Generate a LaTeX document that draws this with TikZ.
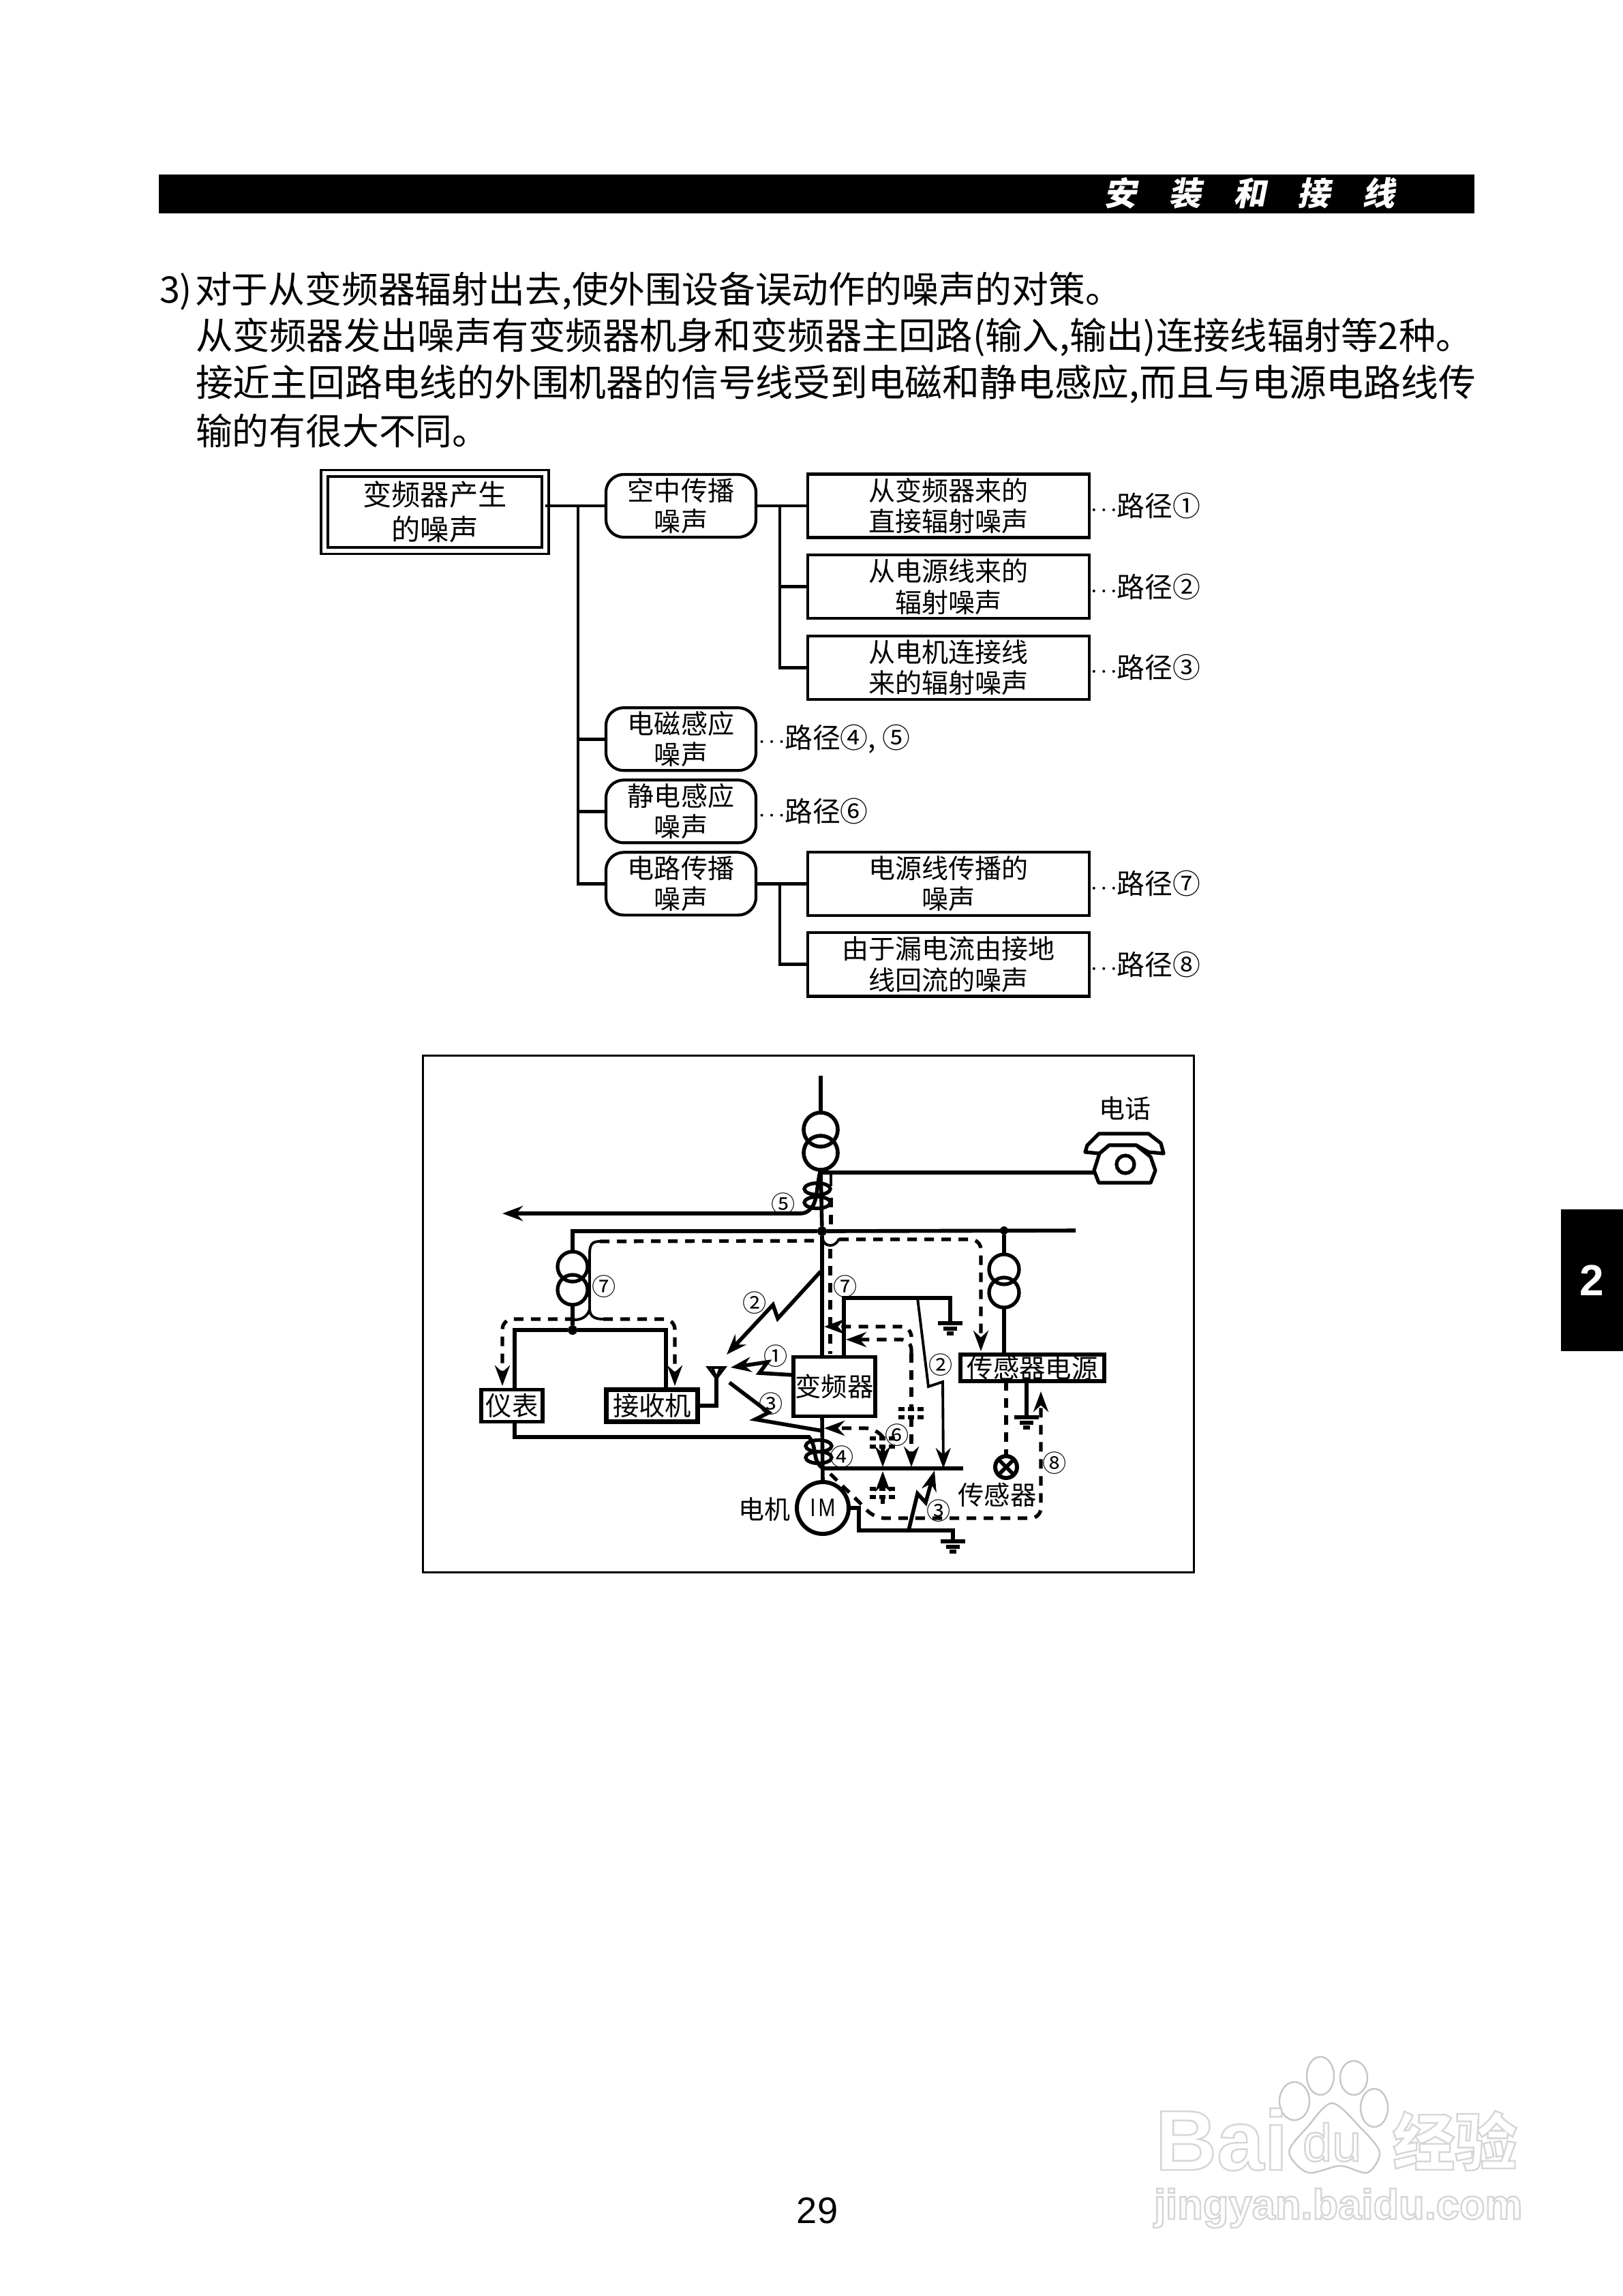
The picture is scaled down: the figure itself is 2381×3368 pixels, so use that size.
\documentclass[tikz,border=0pt]{standalone}
\usepackage{fontspec}
\setmainfont{Noto Sans CJK SC}
\newfontfamily\latinfont{Liberation Sans}
\newfontfamily\motorfont[FakeStretch=0.8]{Liberation Sans}
\newfontfamily\titlefont[FakeSlant=0.2]{Noto Sans CJK SC}
\usetikzlibrary{arrows.meta,positioning,shapes.geometric}
\newcommand{\pathdots}{\raisebox{0.8pt}{\fontsize{7.5}{8}\selectfont\boldmath$\cdots$}}
\newcommand{\wmtext}[1]{\special{pdf:code q 1 Tr 0.84 G 0.7 w}#1\special{pdf:code Q}}

\begin{document}
\begin{tikzpicture}[x=0.01cm, y=-0.01cm, every node/.style={inner sep=0, outer sep=0}, body/.style={anchor=west, font=\fontsize{15.3}{18}\selectfont}, rootbox/.style={draw, double, double distance=1.7pt, line width=1.1pt, minimum width=3.24cm, minimum height=1.13cm, align=center, font=\fontsize{12}{14.6}\selectfont}, rbox/.style={draw, rounded corners=2.6mm, line width=1.2pt, minimum width=2.2cm, minimum height=0.92cm, align=center, font=\fontsize{11.1}{12.9}\selectfont}, leaf/.style={draw, line width=1.2pt, minimum width=4.13cm, minimum height=0.93cm, align=center, font=\fontsize{11.1}{12.9}\selectfont}, pathlabel/.style={font=\fontsize{11.6}{12}\selectfont}, treewire/.style={line width=1.4pt}, wire/.style={line width=1.6pt}, thinwire/.style={line width=1.1pt}, dashwire/.style={line width=1.5pt, dash pattern=on 1.4mm off 1.1mm, rounded corners=1.5mm}, tip/.style={-{Stealth[length=3mm,width=2.2mm]}}, ring/.style={draw, circle, line width=1.5pt, minimum size=0.44cm}, bigring/.style={draw, circle, line width=1.6pt, minimum size=0.5cm}, coil/.style={draw, ellipse, line width=1.5pt, minimum width=0.38cm, minimum height=0.17cm}, device/.style={draw, line width=1.6pt, font=\fontsize{10.9}{12}\selectfont}, junction/.style={fill, circle, minimum size=0.14cm}, num/.style={font=\fontsize{10}{11}\selectfont}, caption/.style={font=\fontsize{10.8}{12}\selectfont}, earth/.pic={\draw[line width=1.5pt] (-18,0) -- (18,0); \draw[line width=1.5pt] (-10,8) -- (10,8); \draw[line width=1.5pt] (-5,15) -- (5,15);}, plates/.pic={\draw[line width=1.5pt, dash pattern=on 0.9mm off 0.5mm] (-19,0) -- (19,0); \draw[line width=1.5pt, dash pattern=on 0.9mm off 0.5mm] (-19,12) -- (19,12);}, watermark/.style={anchor=base west}, paw/.style={draw=black!22, line width=0.7pt}]
\useasboundingbox (0,0) rectangle (2381,3368);

\node[fill=black, minimum width=19.28cm, minimum height=0.57cm] (headbar) at (1198,284.5) {};
\node[text=white, font=\titlefont\bfseries\fontsize{13.6}{14}\selectfont] (title) at (1833,283) {安\hspace{0.467cm}装\hspace{0.467cm}和\hspace{0.467cm}接\hspace{0.467cm}线};
\node[fill=black, minimum width=0.91cm, minimum height=2.08cm, text=white, font=\latinfont\bfseries\fontsize{18.2}{20}\selectfont] (chapter) at (2335.5,1878) {2};
\node[font=\latinfont\fontsize{15.4}{18}\selectfont] (pageno) at (1199,3243) {29};

\node[body] (line1) at (234,427) {\makebox[0.52cm][l]{3)}对于从变频器辐射出去,使外围设备误动作的噪声的对策。};
\node[body, font=\fontsize{15.44}{18}\selectfont] (line2) at (287,495) {从变频器发出噪声有变频器机身和变频器主回路(输入,输出)连接线辐射等2种。};
\node[body, font=\fontsize{15.58}{18}\selectfont] (line3) at (287,563) {接近主回路电线的外围机器的信号线受到电磁和静电感应,而且与电源电路线传};
\node[body] (line4) at (287,632) {输的有很大不同。};

\node[rootbox] (noise) at (638,751) {变频器产生\\的噪声};
\node[rbox] (air) at (999,742) {空中传播\\噪声};
\node[rbox,below=25mm of air] (magnetic) {电磁感应\\噪声};
\node[rbox,below=1.4mm of magnetic] (static) {静电感应\\噪声};
\node[rbox,below=1.4mm of static] (circuit) {电路传播\\噪声};
\node[leaf,right=7.6mm of air] (direct) {从变频器来的\\直接辐射噪声};
\node[leaf,below=2.55mm of direct] (powerline) {从电源线来的\\辐射噪声};
\node[leaf,below=2.55mm of powerline] (motorline) {从电机连接线\\来的辐射噪声};
\node[leaf,right=7.6mm of circuit] (conducted) {电源线传播的\\噪声};
\node[leaf,below=2.55mm of conducted] (leakage) {由于漏电流由接地\\线回流的噪声};
\node[pathlabel,right=0.2mm of direct] (path1) {\pathdots 路径①};
\node[pathlabel,right=0.2mm of powerline] (path2) {\pathdots 路径②};
\node[pathlabel,right=0.2mm of motorline] (path3) {\pathdots 路径③};
\node[pathlabel,right=0.4mm of magnetic] (path45) {\pathdots 路径④, ⑤};
\node[pathlabel,right=0.4mm of static] (path6) {\pathdots 路径⑥};
\node[pathlabel,right=0.2mm of conducted] (path7) {\pathdots 路径⑦};
\node[pathlabel,right=0.2mm of leakage] (path8) {\pathdots 路径⑧};
\coordinate (trunk) at (848,742);
\coordinate (branch) at (1144,742);
\coordinate (branchb) at (1144,1297);
\draw[treewire] (air.west -| noise.east) -- (air.west);
\draw[treewire] (trunk) |- (magnetic.west);
\draw[treewire] (trunk) |- (static.west);
\draw[treewire] (trunk) |- (circuit.west);
\draw[treewire] (air.east) -- (direct.west);
\draw[treewire] (branch) |- (powerline.west);
\draw[treewire] (branch) |- (motorline.west);
\draw[treewire] (circuit.east) -- (conducted.west);
\draw[treewire] (branchb) |- (leakage.west);

\node[draw, line width=0.85pt, minimum width=11.3cm, minimum height=7.57cm] (panel) at (1186,1927.5) {};
\node[device, minimum width=1.2cm, minimum height=0.87cm] (inverter) at (1224,2034) {变频器};
\node[device, minimum width=2.11cm, minimum height=0.39cm] (sensorpower) at (1514.5,2006.5) {传感器电源};
\node[device, minimum width=0.9cm, minimum height=0.47cm] (meter) at (751,2062) {仪表};
\node[device, line width=2pt, minimum width=1.33cm, minimum height=0.47cm] (receiver) at (956.5,2062) {接收机};
\node[draw, circle, line width=1.7pt, minimum size=0.76cm, font=\motorfont\fontsize{10.6}{11}\selectfont] (motor) at (1207,2212) {I\hspace{0.04cm}M};
\node[draw, circle, line width=1.7pt, minimum size=0.32cm] (lamp) at (1476,2152) {};
\node[bigring] (maina) at (1204,1657) {};
\node[bigring] (mainb) at (1204,1691) {};
\node[ring] (lefta) at (840,1858) {};
\node[ring] (leftb) at (840,1892) {};
\node[ring] (righta) at (1473,1862) {};
\node[ring] (rightb) at (1473,1896) {};
\node[coil] (coila) at (1199,1744) {};
\node[coil] (coilb) at (1199,1764) {};
\node[coil] (coilc) at (1201,2121) {};
\node[coil] (coild) at (1201,2138) {};
\node[junction] (busmain) at (1206,1806) {};
\node[junction, minimum size=0.12cm] (busright) at (1473,1805) {};
\node[junction] (busleft) at (840,1951) {};
\coordinate (mains) at (1204,1578);
\coordinate (feedwest) at (737,1780);
\coordinate (phonein) at (1605,1720);
\coordinate (buswest) at (837,1807);
\coordinate (buseast) at (1578,1805);
\coordinate (barwest) at (1207,2154);
\coordinate (bareast) at (1413,2154);
\coordinate (antenna) at (1051,2022);

\draw[wire] (mains) -- (maina.north);
\draw[wire] (mainb.south) -- (busmain);
\draw[wire] (busmain) -- (busmain |- inverter.north);
\draw[wire] (1204,1720) -- (phonein);
\draw[wire] (leftb.south) -- (busleft);
\draw[wire] (lefta.north) |- (busmain);
\draw[wire] (busmain) -- (buseast);
\draw[wire] (busright) -- (righta.north);
\draw[wire] (rightb.south) -- (rightb.south |- sensorpower.north);
\draw[wire] (755,0 |- meter.north) |- (busleft);
\draw[wire] (977,0 |- receiver.north) |- (busleft);
\draw[wire] (receiver.east) -| (antenna);
\draw[thinwire] (1039,2006) -- (1063,2006) -- (antenna) -- cycle;
\draw[thinwire] (1045,2006) -- (antenna) -- (1057,2006);
\draw[wire] (1204,1716) .. controls (1198,1735) and (1200,1762) .. (1190,1772) .. controls (1184,1779) and (1180,1780) .. (1172,1780);
\draw[wire, tip] (1172,1780) -- (feedwest);
\draw[wire] (755,0 |- meter.south) |- (1187,2108) .. controls (1200,2125) and (1190,2140) .. (barwest);
\draw[wire] (busmain |- inverter.south) -- (motor.north);
\draw[wire] (barwest) -- (bareast);
\draw[wire] (1238,0 |- inverter.north) |- (1394,1904) -- (1394,1941);
\pic at (1394,1941) {earth};
\draw[wire] (motor.east) -- (1260,2212) -- (1260,2245) -| (1398,2261);
\pic at (1398,2261) {earth};
\draw[wire] (1506,0 |- sensorpower.south) -- (1506,2079);
\pic at (1506,2079) {earth};
\draw[wire] (lamp.north west) -- (lamp.south east);
\draw[wire] (lamp.north east) -- (lamp.south west);

\draw[wire, tip] (1204,1865) -- (1141,1934) -- (1134,1914) -- (1066,1987);
\draw[wire, tip] (inverter.west |- 0,2017) -- (1114,2014) -- (1126,1998) -- (1072,2006);
\draw[wire] (1070,2028) -- (1128,2072) -- (1108,2082) -- (1207,2099);
\draw[thinwire, tip] (1346,1904) -- (1362,2034) -- (1383,2027) -- (1384,2154);
\draw[wire, tip] (1333,2245) -- (1346,2191) -- (1358,2204) -- (1371,2157);

\draw[thinwire] (1219,1722) -- (1219,1740);
\draw[dashwire] (1219,1757) -- (1219,1803);
\draw[thinwire] (1207,1818) .. controls (1210,1830) and (1226,1830) .. (1231,1817);
\draw[dashwire] (1218,1832) -- (1218,1986);
\draw[thinwire] (880,1821) .. controls (868,1821) and (865,1826) .. (865,1840) -- (865,1920) .. controls (865,1932) and (874,1935) .. (885,1935);
\draw[thinwire] (865,1920) .. controls (863,1930) and (854,1936) .. (843,1936);
\draw[dashwire] (880,1821) -- (1204,1820);
\draw[dashwire, tip] (885,1935) -- (990,1935) -- (990,2033);
\draw[dashwire, tip] (843,1935) -- (737,1935) -- (737,2033);
\draw[dashwire, tip] (1231,1818) -- (1439,1818) -- (1439,1982);
\draw[dashwire, tip] (1337,1958) -- (1337,1946) -- (1209,1946);
\draw[dashwire, tip] (1337,1985) -- (1337,1965) -- (1241,1965);
\draw[dashwire] (1337,1985) -- (1337,2067);
\pic at (1337,2067) {plates};
\draw[dashwire, tip] (1337,2079) -- (1337,2152);
\draw[dashwire, tip] (1295,2108) -- (1285,2095) -- (1209,2095);
\pic at (1295,2110) {plates};
\draw[dashwire, tip] (1295,2122) -- (1295,2152);
\pic at (1295,2184) {plates};
\draw[dashwire, tip] (1295,2184) -- (1295,2158);
\draw[dashwire] (1295,2196) -- (1295,2206);
\draw[dashwire, tip] (1218,2162) -- (1262,2205) -- (1283,2227) -- (1527,2227) -- (1527,2041);
\draw[dashwire] (lamp.north |- sensorpower.south) -- (lamp.north);

\node[caption] (phonecap) at (1650,1626) {电话};
\node[caption] (motorcap) at (1121,2214) {电机};
\node[device, draw=none] (sensorcap) at (1463,2193) {传感器};
\node[num] (n1) at (1138,1989) {①};
\node[num] (n2) at (1107,1911) {②};
\node[num] (n2b) at (1380,2002) {②};
\node[num] (n3) at (1131,2059) {③};
\node[num] (n3b) at (1377,2216) {③};
\node[num] (n4) at (1235,2137) {④};
\node[num] (n5) at (1149,1766) {⑤};
\node[num] (n6) at (1316,2105) {⑥};
\node[num] (n7) at (1240,1887) {⑦};
\node[num] (n7b) at (886,1887) {⑦};
\node[num] (n8) at (1547,2146) {⑧};

\draw[line width=1.5pt, line join=round] (1592,1690) -- (1595,1680) -- (1612,1663) -- (1685,1663) -- (1703,1677) -- (1707,1692) -- (1685,1690) -- (1667,1680) -- (1627,1680) -- (1613,1692) -- cycle;
\draw[line width=1.5pt, line join=round, fill=white] (1627,1680) -- (1667,1680) -- (1688,1697) -- (1695,1717) -- (1688,1735) -- (1612,1735) -- (1605,1717) -- (1613,1692) -- cycle;
\node[ring, minimum size=0.26cm] (dial) at (1651,1708) {};

\draw[paw] (1899,3082) ellipse (22 and 28);
\draw[paw] (1937,3045) ellipse (20 and 28);
\draw[paw] (1986,3048) ellipse (20 and 25);
\draw[paw] (2016,3092) ellipse (20 and 28);
\draw[paw] plot[smooth cycle] coordinates {(1954,3085) (1918,3120) (1891,3157) (1919,3187) (1966,3177) (2006,3187) (2024,3157) (1995,3120)};
\node[watermark, font=\latinfont\bfseries\fontsize{35.5}{36}\selectfont] (wmbai) at (1695,3183) {\wmtext{Bai}};
\node[watermark, font=\latinfont\fontsize{22}{24}\selectfont] (wmdu) at (1911,3170) {\wmtext{du}};
\node[watermark, font=\bfseries\fontsize{26}{28}\selectfont] (wmcn) at (2043,3176) {\wmtext{经验}};
\node[watermark, font=\latinfont\bfseries\fontsize{17.5}{18}\selectfont] (wmurl) at (1693,3255) {\wmtext{jingyan.baidu.com}};
\end{tikzpicture}
\end{document}
